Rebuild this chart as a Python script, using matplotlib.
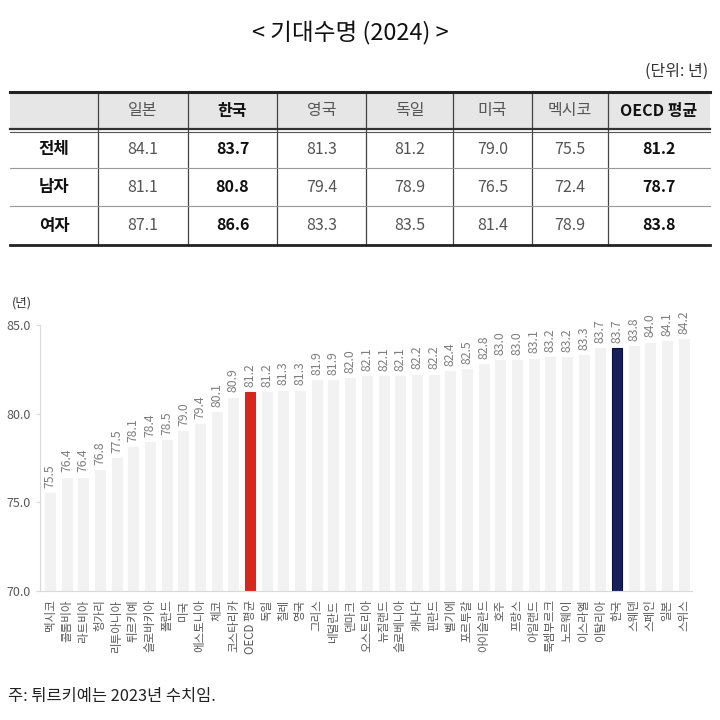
import matplotlib
matplotlib.use("Agg")
import matplotlib.pyplot as plt
from matplotlib.patches import Rectangle

plt.rcParams['font.family'] = ['Noto Sans CJK KR', 'DejaVu Sans']

# ---------------- data ----------------
title = "< 기대수명 (2024) >"
unit_text = "(단위: 년)"
table_cols = ["일본", "한국", "영국", "독일", "미국", "멕시코", "OECD 평균"]
table_rows = ["전체", "남자", "여자"]
row_total = [84.1, 83.7, 81.3, 81.2, 79.0, 75.5, 81.2]
row_male = [81.1, 80.8, 79.4, 78.9, 76.5, 72.4, 78.7]
row_female = [87.1, 86.6, 83.3, 83.5, 81.4, 78.9, 83.8]
bold_cols = ["한국", "OECD 평균"]

countries = ["멕시코", "콜롬비아", "라트비아", "헝가리", "리투아니아", "튀르키예", "슬로바키아",
             "폴란드", "미국", "에스토니아", "체코", "코스타리카", "OECD 평균", "독일", "칠레",
             "영국", "그리스", "네덜란드", "덴마크", "오스트리아", "뉴질랜드", "슬로베니아",
             "캐나다", "핀란드", "벨기에", "포르투갈", "아이슬란드", "호주", "프랑스", "아일랜드",
             "룩셈부르크", "노르웨이", "이스라엘", "이탈리아", "한국", "스웨덴", "스페인",
             "일본", "스위스"]
life_exp = [75.5, 76.4, 76.4, 76.8, 77.5, 78.1, 78.4, 78.5, 79.0, 79.4, 80.1, 80.9, 81.2,
            81.2, 81.3, 81.3, 81.9, 81.9, 82.0, 82.1, 82.1, 82.1, 82.2, 82.2, 82.4, 82.5,
            82.8, 83.0, 83.0, 83.1, 83.2, 83.2, 83.3, 83.7, 83.7, 83.8, 84.0, 84.1, 84.2]
y_ticks = [70.0, 75.0, 80.0, 85.0]
y_unit = "(년)"
footnote = "주: 튀르키예는 2023년 수치임."

# ---------------- figure ----------------
W = H = 720
fig = plt.figure(figsize=(7.2, 7.2), dpi=100)
bg = fig.add_axes([0, 0, 1, 1])
bg.set_xlim(0, W)
bg.set_ylim(H, 0)
bg.axis('off')

bg.text(350, 33, title, ha='center', va='center', fontsize=17, fontweight='medium', color='#111111')
bg.text(708, 71, unit_text, ha='right', va='center', fontsize=11.5, color='#333333')

# table
col_edges = [10, 98, 188, 277, 366, 453, 532, 608, 710]
t_top, h_bot = 92, 130
row_edges = [130, 168, 206, 245]

bg.add_patch(Rectangle((col_edges[0], t_top), col_edges[-1] - col_edges[0], h_bot - t_top,
                       facecolor='#e6e6e6', edgecolor='none', zorder=1))
bg.plot([col_edges[0], col_edges[-1]], [t_top, t_top], color='#222222', lw=2.2, zorder=3)
bg.plot([col_edges[0], col_edges[-1]], [h_bot - 1, h_bot - 1], color='#333333', lw=1.6, zorder=3)
bg.plot([col_edges[0], col_edges[-1]], [h_bot + 2, h_bot + 2], color='#555555', lw=0.8, zorder=3)
for y in row_edges[1:-1]:
    bg.plot([col_edges[0], col_edges[-1]], [y, y], color='#999999', lw=0.8, zorder=3)
bg.plot([col_edges[0], col_edges[-1]], [row_edges[-1], row_edges[-1]], color='#222222', lw=2.0, zorder=3)
for x in col_edges[1:-1]:
    bg.plot([x, x], [t_top, row_edges[-1]], color='#444444', lw=0.9, zorder=2)

for j, c in enumerate(table_cols):
    cx = (col_edges[j + 1] + col_edges[j + 2]) / 2
    b = c in bold_cols
    bg.text(cx, (t_top + h_bot) / 2, c, ha='center', va='center', fontsize=11.5,
            fontweight='bold' if b else 'normal', color='#111111' if b else '#555555')

table_vals = [row_total, row_male, row_female]
for i, rname in enumerate(table_rows):
    cy = (row_edges[i] + row_edges[i + 1]) / 2
    bg.text((col_edges[0] + col_edges[1]) / 2, cy, rname, ha='center', va='center',
            fontsize=12, fontweight='bold', color='#111111')
    for j, v in enumerate(table_vals[i]):
        cx = (col_edges[j + 1] + col_edges[j + 2]) / 2
        b = table_cols[j] in bold_cols
        bg.text(cx, cy, f"{v:.1f}", ha='center', va='center', fontsize=11.5,
                fontweight='bold' if b else 'normal', color='#111111' if b else '#555555')

# ---------------- bar chart ----------------
ax_l, ax_r, ax_t, ax_b = 40, 692, 325, 591
ax = fig.add_axes([ax_l / W, 1 - ax_b / H, (ax_r - ax_l) / W, (ax_b - ax_t) / H])
ax.patch.set_alpha(0)
x = list(range(len(countries)))
colors = []
edges = []
for c in countries:
    if c == "OECD 평균":
        colors.append('#d7261e'); edges.append('#d7261e')
    elif c == "한국":
        colors.append('#16205e'); edges.append('#0a0f33')
    else:
        colors.append('#f2f2f2'); edges.append('#f2f2f2')
ax.bar(x, [v - 70 for v in life_exp], bottom=70, width=0.6, color=colors, edgecolor=edges, linewidth=0.8, zorder=2)
for xi, v in zip(x, life_exp):
    ax.text(xi, v + 0.3, f"{v:.1f}", rotation=90, ha='center', va='bottom', fontsize=8.8, color='#7f7f7f')

ax.set_ylim(70, 85)
ax.set_xlim(-0.6, 38.5)
ax.set_yticks(y_ticks)
ax.set_yticklabels([f"{t:.1f}" for t in y_ticks], fontsize=9, color='#595959')
ax.set_xticks(x)
ax.set_xticklabels(countries, rotation=90, fontsize=8.3, color='#595959')
ax.tick_params(axis='x', length=0, pad=6)
ax.tick_params(axis='y', length=3, color='#d9d9d9', pad=4)
for s in ['top', 'right']:
    ax.spines[s].set_visible(False)
ax.spines['left'].set_color('#d9d9d9')
ax.spines['bottom'].set_color('#d9d9d9')
ax.spines['left'].set_linewidth(0.8)
ax.spines['bottom'].set_linewidth(0.8)

bg.text(22, 303, y_unit, ha='center', va='center', fontsize=9, color='#333333')
bg.text(8, 697, footnote, ha='left', va='center', fontsize=11.8, color='#222222')

fig.savefig("out.png", dpi=100)
